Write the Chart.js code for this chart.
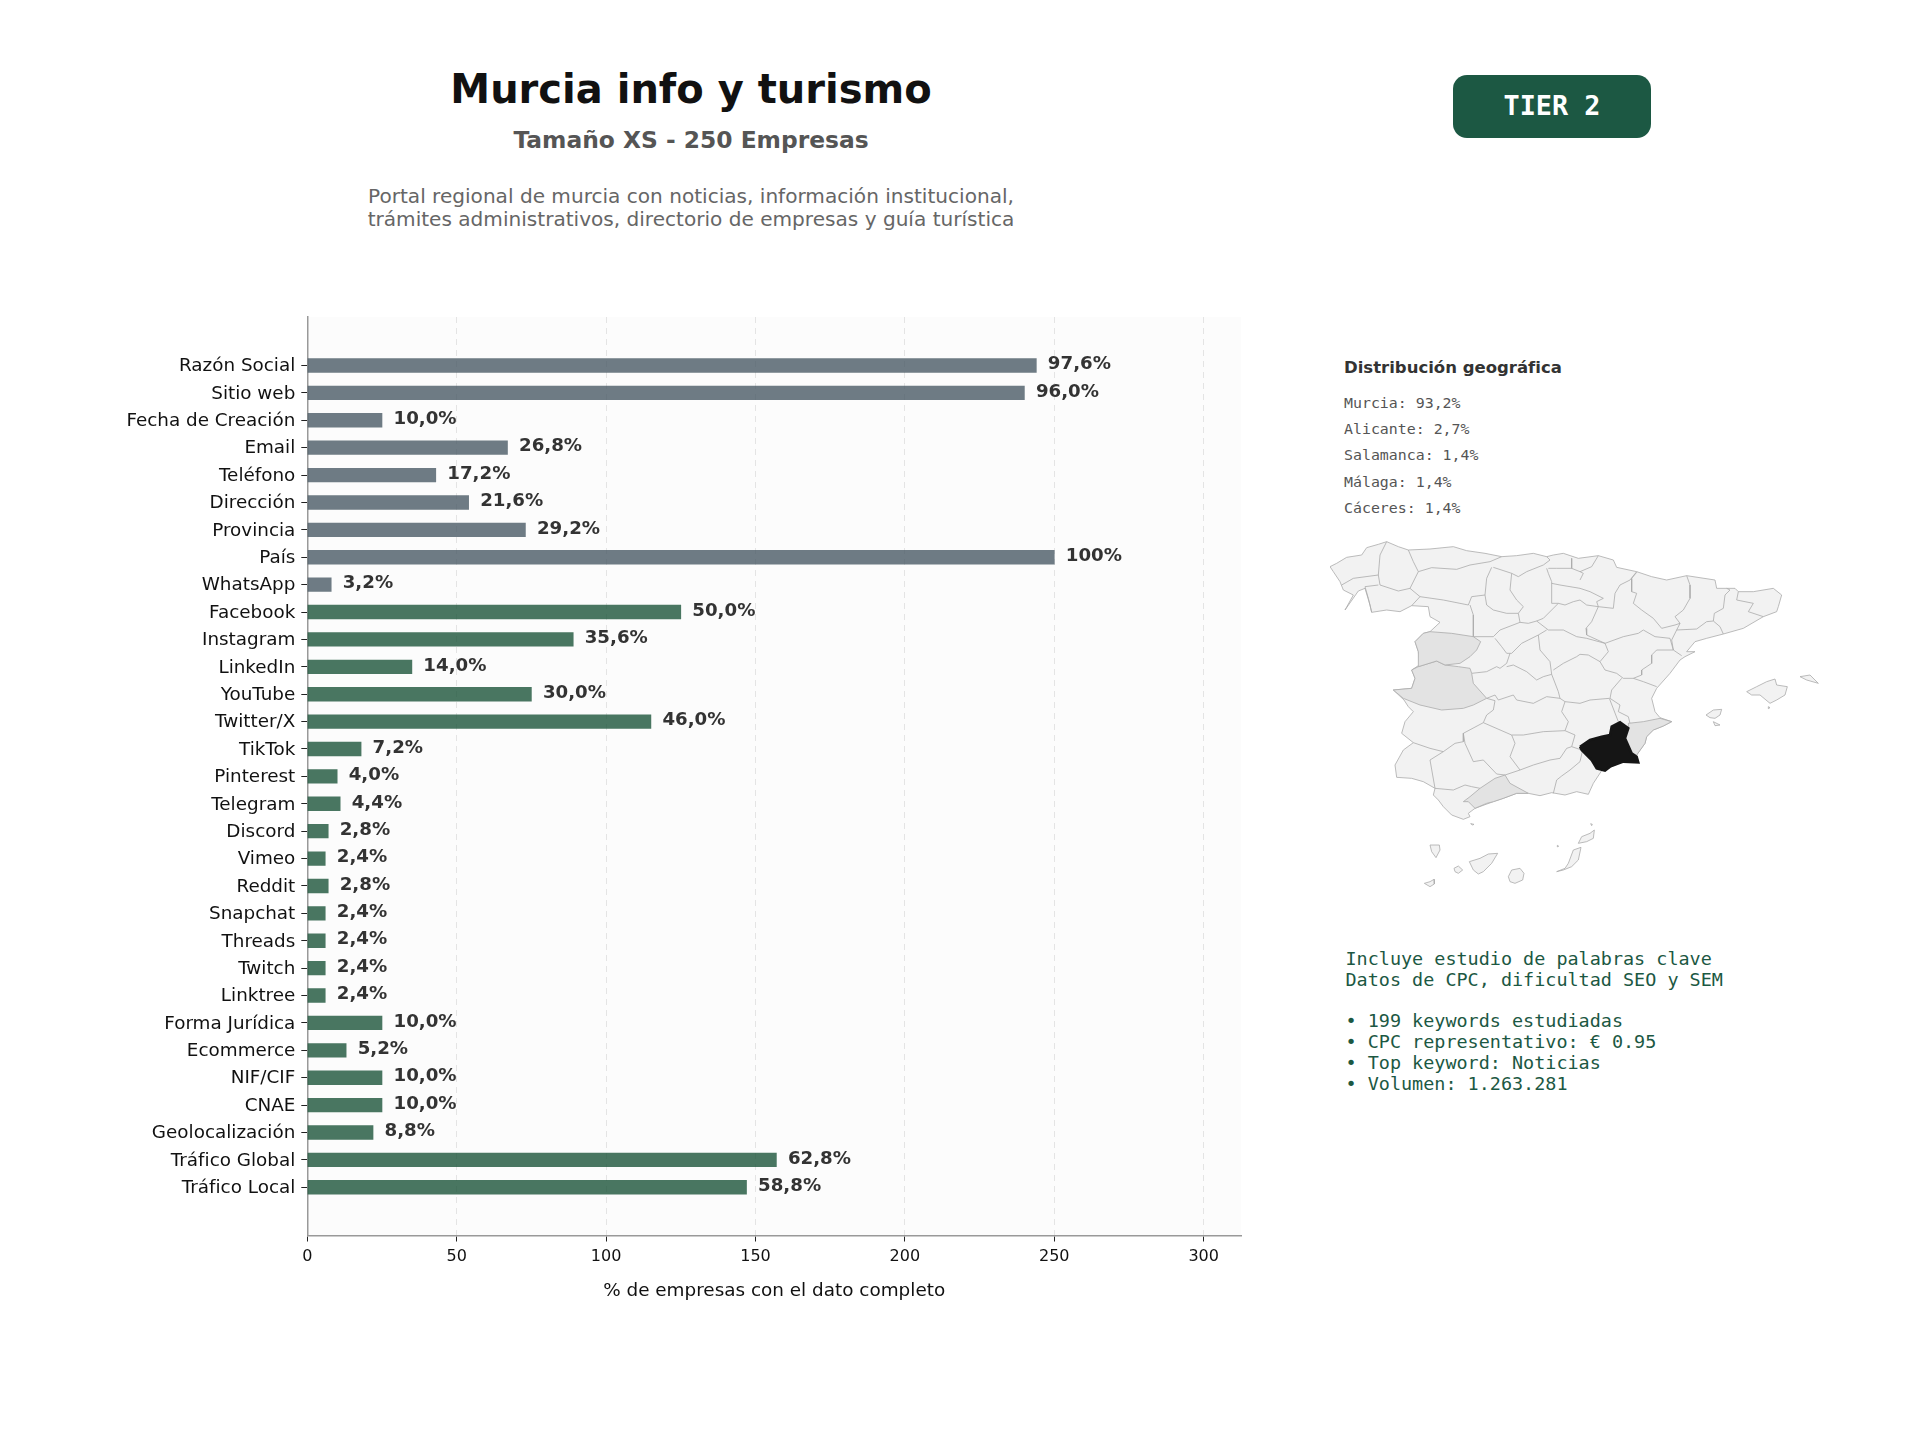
<!DOCTYPE html>
<html lang="es">
<head>
<meta charset="utf-8">
<title>Murcia info y turismo</title>
<script src="https://cdn.jsdelivr.net/npm/chart.js@4"></script>
<style>
html,body{margin:0;padding:0;background:#fff;width:1920px;height:1440px;overflow:hidden}
.t{position:absolute;white-space:pre;line-height:1;font-family:"DejaVu Sans"}
.c{transform:translate(-50%,-50%)}
.m{font-family:"DejaVu Sans Mono"}
canvas{position:absolute}
#tier{position:absolute;left:1453px;top:75px;width:198px;height:63px;border-radius:14px;background:#1c5843;color:#fff;font:bold 26.800px "DejaVu Sans Mono";line-height:62px;text-align:center}
</style>
</head>
<body>
<div class="t c" style="left:691px;top:89px;font-size:40px;font-weight:bold;color:#111">Murcia info y turismo</div>
<div class="t c" style="left:691px;top:141px;font-size:23.360px;font-weight:bold;color:#555">Tamaño XS - 250 Empresas</div>
<div class="t c" style="left:691px;top:196px;font-size:20.080px;color:#666">Portal regional de murcia con noticias, información institucional,</div>
<div class="t c" style="left:691px;top:219px;font-size:20.080px;color:#666">trámites administrativos, directorio de empresas y guía turística</div>
<div id="tier">TIER 2</div>

<div class="t" style="left:1344px;top:360px;font-size:16.5px;font-weight:bold;color:#333">Distribución geográfica</div>
<div class="t m" id="geo" style="left:1344px;top:396px;font-size:14.9px;color:#555"></div>
<div class="t m" id="kw" style="left:1345.500px;top:950px;font-size:18.450px;color:#1c5843"></div>

<canvas id="bars" width="1300" height="1040" style="left:0;top:300px;width:1300px;height:1040px"></canvas>
<canvas id="map" width="520" height="380" style="left:1330px;top:535px;width:520px;height:380px"></canvas>

<script>
// ---------- chart values ----------
const categories = ["Razón Social","Sitio web","Fecha de Creación","Email","Teléfono","Dirección","Provincia","País","WhatsApp","Facebook","Instagram","LinkedIn","YouTube","Twitter/X","TikTok","Pinterest","Telegram","Discord","Vimeo","Reddit","Snapchat","Threads","Twitch","Linktree","Forma Jurídica","Ecommerce","NIF/CIF","CNAE","Geolocalización","Tráfico Global","Tráfico Local"];
const companyCounts = [244,240,25,67,43,54,73,250,8,125,89,35,75,115,18,10,11,7,6,7,6,6,6,6,25,13,25,25,22,157,147];
const percentLabels = ["97,6%","96,0%","10,0%","26,8%","17,2%","21,6%","29,2%","100%","3,2%","50,0%","35,6%","14,0%","30,0%","46,0%","7,2%","4,0%","4,4%","2,8%","2,4%","2,8%","2,4%","2,4%","2,4%","2,4%","10,0%","5,2%","10,0%","10,0%","8,8%","62,8%","58,8%"];
const basicFieldCount = 9;
const xTickStep = 50;
const xAxisTitle = "% de empresas con el dato completo";
const geoLines = ["Murcia: 93,2%","Alicante: 2,7%","Salamanca: 1,4%","Málaga: 1,4%","Cáceres: 1,4%"];
const keywordLines = ["Incluye estudio de palabras clave","Datos de CPC, dificultad SEO y SEM","","• 199 keywords estudiadas","• CPC representativo: € 0.95","• Top keyword: Noticias","• Volumen: 1.263.281"];

// ---------- map outlines (map units) ----------
const mainland = [[0,95],[20,85],[50,67],[95,60],[110,38],[145,28],[170,20],[205,35],[235,45],[300,42],[370,35],[410,47],[465,55],[515,65],[560,62],[610,55],[650,65],[670,60],[700,55],[745,70],[805,62],[850,75],[860,97],[920,110],[965,125],[1010,135],[1070,122],[1155,135],[1160,160],[1215,160],[1225,170],[1270,170],[1330,160],[1355,180],[1345,215],[1340,230],[1300,245],[1240,280],[1180,297],[1130,310],[1095,320],[1070,350],[1095,350],[1065,365],[1050,375],[1020,415],[980,460],[965,490],[975,530],[990,548],[1025,560],[1000,573],[970,585],[950,605],[945,625],[920,660],[925,680],[870,680],[825,707],[815,707],[790,745],[775,778],[740,770],[705,780],[665,773],[630,782],[595,775],[560,775],[520,790],[490,800],[435,820],[415,835],[420,845],[400,853],[365,840],[340,815],[325,795],[310,780],[315,760],[280,740],[245,730],[200,727],[195,690],[220,645],[250,623],[215,595],[225,560],[250,530],[235,515],[222,495],[190,465],[245,460],[255,430],[245,405],[268,390],[265,350],[255,320],[280,295],[300,290],[330,262],[300,245],[295,215],[245,212],[210,230],[170,225],[125,232],[120,210],[105,160],[85,168],[45,225],[70,180],[40,165],[30,140],[10,110]];
const provinceBorders = [
 [[170,20],[150,60],[145,120],[150,150],[205,168],[240,160],[270,185],[245,212]],
 [[35,150],[70,130],[145,120]],
 [[145,150],[105,155],[115,190],[125,232]],
 [[235,45],[250,80],[265,110],[240,160]],
 [[265,110],[305,98],[380,103],[420,90],[480,80],[515,65]],
 [[490,97],[545,115],[565,125],[590,110],[640,90],[660,75],[650,65]],
 [[485,97],[470,130],[465,180],[425,185],[415,210],[340,195],[270,185]],
 [[545,115],[540,165],[560,195],[580,215],[565,235],[570,262]],
 [[465,180],[470,210],[490,225],[530,235],[565,235]],
 [[420,210],[430,240],[430,305]],
 [[430,305],[490,305],[510,285],[570,262],[595,265],[620,258],[640,250],[685,205],[665,205],[665,140],[655,115],[650,100]],
 [[655,100],[680,100],[725,100],[750,110],[760,115],[750,135]],
 [[725,70],[725,100]],
 [[805,62],[785,95],[750,110]],
 [[665,145],[690,150],[750,160],[780,170],[820,190],[800,200],[805,215],[850,220],[855,175],[870,150],[900,135],[920,110]],
 [[685,205],[705,210],[730,200],[750,195],[770,210],[805,215],[785,260],[768,280],[770,300],[825,325],[835,350],[810,380]],
 [[620,258],[655,285],[700,285],[740,305],[770,310],[825,325]],
 [[650,285],[625,300],[630,345],[660,380],[665,418],[685,470],[690,490],[705,500],[750,505],[780,495],[838,490]],
 [[625,300],[575,325],[545,355],[530,355],[515,335],[495,310]],
 [[540,355],[530,385],[510,400],[500,395],[470,410],[425,415]],
 [[530,395],[550,390],[590,410],[620,435],[640,425],[665,418]],
 [[670,405],[700,385],[740,365],[750,358],[775,360],[810,380],[825,405],[860,415],[880,430],[910,430],[940,440],[980,455]],
 [[875,430],[845,465],[840,490],[870,510],[865,530],[895,545],[900,565]],
 [[825,325],[880,305],[925,295],[940,285],[975,305],[1020,310],[1030,345],[980,345],[965,360],[965,385],[935,405],[935,420],[910,430]],
 [[920,112],[905,130],[905,170],[920,175],[910,205],[935,225],[970,250],[995,280],[1035,270],[1050,265]],
 [[1070,122],[1080,150],[1080,190],[1060,225],[1035,245],[1050,265],[1040,285],[1025,315],[1030,345],[1055,362]],
 [[1040,285],[1100,282],[1130,260],[1150,258],[1170,275],[1180,297]],
 [[1150,258],[1153,235],[1180,220],[1185,180],[1200,165],[1190,160]],
 [[1225,170],[1220,195],[1270,205],[1255,230],[1300,245]],
 [[470,490],[495,497],[490,525],[470,540],[460,563],[400,595],[400,620],[375,625],[340,650],[300,640],[250,623]],
 [[340,650],[300,675],[315,760],[370,765],[405,750],[425,755],[450,760]],
 [[400,595],[405,625],[430,680],[460,675],[500,717],[525,720],[570,705]],
 [[460,563],[545,600],[555,625],[540,665],[570,705],[610,690],[660,675],[690,670],[710,640],[725,635],[755,645]],
 [[545,600],[580,600],[640,590],[705,587],[735,600],[725,635]],
 [[470,490],[495,480],[505,495],[550,480],[560,495],[610,505],[650,485],[690,490]],
 [[705,587],[715,560],[695,530],[705,500]],
 [[758,645],[750,680],[720,705],[695,723],[680,735],[670,775]],
 [[838,490],[865,560]]
];
const murciaShape = [[750,635],[780,615],[815,605],[840,600],[845,575],[870,562],[895,580],[885,610],[905,655],[920,665],[925,682],[880,680],[840,695],[825,707],[800,700],[785,675],[755,645]];
const alicanteShape = [[895,565],[940,560],[990,550],[1025,560],[1000,573],[970,585],[950,605],[945,625],[920,660],[905,655],[885,610],[895,580]];
const malagaShape = [[400,800],[420,785],[450,760],[495,730],[525,720],[540,745],[595,775],[560,775],[520,790],[490,800],[470,805],[435,820],[415,800]];
const salamancaShape = [[265,395],[265,350],[255,320],[280,295],[300,290],[365,295],[430,305],[452,320],[440,345],[420,365],[390,385],[345,390],[320,378]];
const caceresShape = [[190,465],[245,460],[255,430],[245,405],[265,395],[320,378],[345,390],[385,395],[420,400],[425,415],[430,445],[470,490],[430,510],[400,520],[335,525],[270,510],[220,490]];
const islands = [
 [[1250,470],[1280,455],[1310,440],[1335,432],[1340,450],[1372,455],[1365,480],[1340,495],[1320,505],[1290,480],[1265,480]],
 [[1410,425],[1440,420],[1465,445],[1430,435]],
 [[1128,540],[1150,525],[1175,523],[1170,540],[1155,550],[1140,548]],
 [[1150,560],[1170,570],[1155,572]],
 [[1315,515],[1320,518],[1315,521]],
 [[300,930],[328,930],[330,945],[318,968],[305,950]],
 [[418,980],[450,970],[475,957],[503,955],[485,985],[460,1010],[445,1017],[430,1005]],
 [[372,1000],[385,993],[398,1005],[385,1015],[375,1010]],
 [[283,1045],[300,1040],[312,1033],[313,1047],[300,1055]],
 [[535,1025],[545,1005],[570,1000],[582,1015],[578,1035],[555,1045],[540,1040]],
 [[680,1010],[705,1000],[715,985],[730,945],[753,937],[745,975],[725,995],[700,1005]],
 [[745,925],[755,905],[780,895],[793,885],[790,910],[770,920]],
 [[782,866],[787,868],[785,872]],
 [[682,931],[686,933],[683,936]],
 [[422,866],[432,868],[428,870]]
];

// ---------- page text ----------
const geo = document.getElementById('geo');
geoLines.forEach((s,i)=>{const d=document.createElement('div');d.textContent=s;d.style.height='26.200px';geo.appendChild(d);});
const kw = document.getElementById('kw');
keywordLines.forEach((s,i)=>{const d=document.createElement('div');d.textContent=s||' ';d.style.height=(i==2?'20px':'21px');kw.appendChild(d);});

// ---------- bar chart ----------
const basicColor='rgba(74,90,101,0.8)', socialColor='rgba(27,84,58,0.8)';
const barData = companyCounts.map((v,i)=>({x:v,y:i}));
const barColors = companyCounts.map((v,i)=>i<basicFieldCount?basicColor:socialColor);

const plotBg = {id:'plotBg',beforeDraw(c){const a=c.chartArea,x=c.ctx;x.save();x.fillStyle='#fcfcfc';x.fillRect(a.left,a.top,a.width,a.height);x.restore();}};
const valueLabels = {id:'valueLabels',afterDatasetsDraw(c){
  const x=c.ctx;x.save();x.font='bold 18.200px "DejaVu Sans"';x.fillStyle='#333';x.textBaseline='middle';x.textAlign='left';
  c.getDatasetMeta(0).data.forEach((el,i)=>x.fillText(percentLabels[i],el.x+11.5,el.y-1));x.restore();}};

new Chart(document.getElementById('bars'),{
  type:'bar',
  data:{datasets:[{data:barData,backgroundColor:barColors,barThickness:13.7,borderWidth:0}]},
  plugins:[plotBg,valueLabels],
  options:{
    indexAxis:'y',responsive:false,animation:false,devicePixelRatio:1,
    layout:{padding:{top:17,right:59,left:0,bottom:0}},
    plugins:{legend:{display:false},tooltip:{enabled:false},title:{display:false}},
    scales:{
      x:{type:'linear',min:0,max:312.5,offset:false,
        afterFit(s){s.height=104.5;},
        ticks:{stepSize:xTickStep,includeBounds:false,maxRotation:0,color:'#111',padding:6,font:{family:'DejaVu Sans',size:16}},
        grid:{color:'#e4e4e4',lineWidth:1,tickColor:'#222',tickLength:6,tickBorderDash:[],drawOnChartArea:true,offset:false},
        border:{color:'#999',width:1.5,dash:[6,5]},
        title:{display:true,text:xAxisTitle,color:'#111',font:{family:'DejaVu Sans',size:18.4},padding:{top:4,bottom:38}}
      },
      y:{type:'linear',reverse:true,min:-1.77,max:31.76,offset:false,
        afterFit(s){s.width=307.3;},
        afterBuildTicks(s){s.ticks=categories.map((_,i)=>({value:i}));},
        ticks:{autoSkip:false,color:'#111',padding:6,labelOffset:1,callback:v=>categories[v],font:{family:'DejaVu Sans',size:18.35}},
        grid:{display:true,drawOnChartArea:false,tickColor:'#222',tickLength:6,offset:false},
        border:{color:'#999',width:1.5}
      }
    }
  }
});

// ---------- map ----------
const toPts = a => a.map(p=>({x:p[0],y:p[1]}));
const closed = a => toPts(a.concat([a[0]]));
const line='#ababab';
const poly=(a,fill,ord,col,w)=>({data:closed(a),showLine:true,pointRadius:0,tension:0,fill:'shape',backgroundColor:fill,borderColor:col||line,borderWidth:w||0.8,order:ord});
const border=a=>({data:toPts(a),showLine:true,pointRadius:0,tension:0,fill:false,borderColor:line,borderWidth:0.8,order:2});
new Chart(document.getElementById('map'),{
  type:'scatter',
  data:{datasets:[
    poly(mainland,'#f2f2f2',3),
    ...provinceBorders.map(border),
    poly(salamancaShape,'#e3e3e3',1),
    poly(caceresShape,'#e3e3e3',1),
    poly(malagaShape,'#e3e3e3',1),
    poly(alicanteShape,'#e3e3e3',1),
    poly(murciaShape,'#151515',0,'#151515',2.5),
    ...islands.map(a=>poly(a,'#f2f2f2',3))
  ]},
  options:{
    responsive:false,animation:false,devicePixelRatio:1,
    layout:{padding:0},
    plugins:{legend:{display:false},tooltip:{enabled:false}},
    scales:{
      x:{type:'linear',display:false,min:0,max:1560},
      y:{type:'linear',display:false,min:0,max:1140,reverse:true}
    }
  }
});
</script>
</body>
</html>
